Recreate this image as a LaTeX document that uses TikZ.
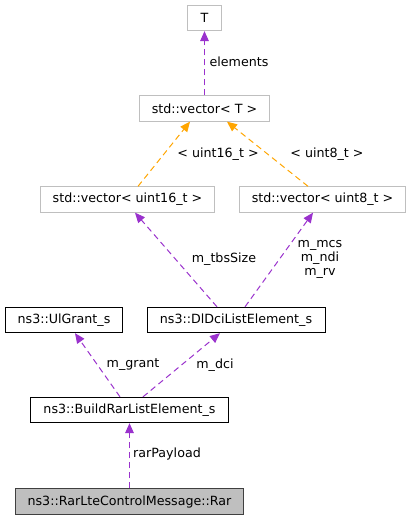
\documentclass[tikz,border=0pt]{standalone}
\usepackage{fontspec}
\setmainfont{DejaVu Sans}
\usetikzlibrary{arrows.meta,calc}
\definecolor{edgepurple}{HTML}{9A32CD}
\definecolor{edgeorange}{HTML}{FFA500}
\definecolor{boxgray}{HTML}{BFBFBF}
\definecolor{hlfill}{HTML}{BFBFBF}
\definecolor{hlborder}{HTML}{404040}
\begin{document}
\begin{tikzpicture}[x=0.75pt,y=-0.75pt,
  every node/.style={font=\fontsize{9.5}{10.5}\selectfont, inner sep=0pt},
  cls/.style={draw, line width=0.75pt, minimum height=19pt, anchor=center},
  graycls/.style={cls, draw=boxgray},
  blackcls/.style={cls, draw=black},
  hlcls/.style={cls, draw=hlborder, fill=hlfill},
  usage/.style={edgepurple, line width=0.75pt, dash pattern=on 4.5pt off 3pt, -{Triangle[length=7.5pt,width=6.5pt]}},
  tmpl/.style={edgeorange, line width=0.75pt, dash pattern=on 4.5pt off 3pt, -{Triangle[length=7.5pt,width=6.5pt]}},
  lbl/.style={align=center}
]
\useasboundingbox (0,0) rectangle (411,520);
% nodes
\node[graycls, minimum width=26pt] (T) at (204.5,18) {T};
\node[graycls, minimum width=97.5pt] (vecT) at (204.5,108.5) {std::vector< T >};
\node[graycls, minimum width=131pt] (vec16) at (127.5,199.5) {std::vector< uint16\_t >};
\node[graycls, minimum width=125pt] (vec8) at (322.5,199.5) {std::vector< uint8\_t >};
\node[blackcls, minimum width=88pt] (ul) at (64,320) {ns3::UlGrant\_s};
\node[blackcls, minimum width=133.5pt] (dl) at (236,320) {ns3::DlDciListElement\_s};
\node[blackcls, minimum width=149pt] (build) at (129.5,410) {ns3::BuildRarListElement\_s};
\node[hlcls, minimum width=171.5pt] (rar) at (129.5,501.5) {ns3::RarLteControlMessage::Rar};
% edges
\draw[usage] (vecT.north) -- (T.south);
\draw[tmpl] ($(vec16.north)+(10.5,0)$) -- ($(vecT.south)+(-14.5,0)$);
\draw[tmpl] ($(vec8.north)+(-14.5,0)$) -- ($(vecT.south)+(22.5,0)$);
\draw[usage] ($(dl.north)+(-19,0)$) -- ($(vec16.south)+(7.5,0)$);
\draw[usage] ($(dl.north)+(9,0)$) -- ($(vec8.south)+(-9.5,0)$);
\draw[usage] ($(build.north)+(-9.5,0)$) -- ($(ul.south)+(11,0)$);
\draw[usage] ($(build.north)+(13.5,0)$) -- ($(dl.south)+(-16,0)$);
\draw[usage] (rar.north) -- (build.south);
% labels
\node[lbl] (lelements) at (239,62) {elements};
\node[lbl] (l16) at (218,154) {< uint16\_t >};
\node[lbl] (l8) at (327,154) {< uint8\_t >};
\node[lbl] (ltbs) at (224,259) {m\_tbsSize};
\node[lbl] (lmcs) at (320,259.5) {m\_mcs\\m\_ndi\\m\_rv};
\node[lbl] (lgrant) at (133,365) {m\_grant};
\node[lbl] (ldci) at (215,365) {m\_dci};
\node[lbl] (lrar) at (167,454) {rarPayload};
\end{tikzpicture}
\end{document}
